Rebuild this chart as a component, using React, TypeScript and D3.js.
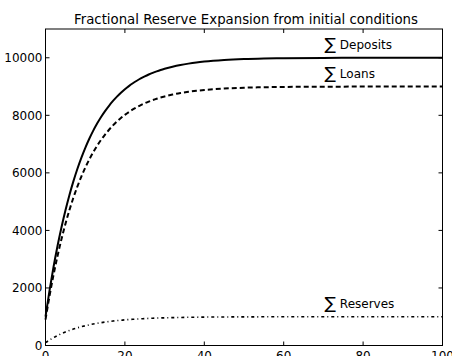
import React, { useEffect, useRef } from "react";
import * as d3 from "d3";

const WIDTH = 452;
const HEIGHT = 356;

// periods (x) and the three running totals
const steps = [
  0, 1, 2, 3, 4, 5, 6, 7, 8, 9, 10, 11, 12, 13, 14, 15, 16, 17, 18, 19, 20,
  21, 22, 23, 24, 25, 26, 27, 28, 29, 30, 32, 34, 36, 38, 40, 45, 50, 55, 60,
  70, 80, 90, 100,
];
const deposits = [
  1000, 1900, 2710, 3439, 4095, 4686, 5217, 5695, 6126, 6513, 6862, 7176,
  7458, 7712, 7941, 8147, 8332, 8499, 8649, 8784, 8906, 9015, 9114, 9202,
  9282, 9354, 9419, 9477, 9529, 9576, 9618, 9691, 9750, 9797, 9836, 9867,
  9921, 9954, 9973, 9984, 9994, 9998, 9999, 10000,
];
const loans = [
  900, 1710, 2439, 3095, 3686, 4217, 4695, 5126, 5513, 5862, 6176, 6458, 6712,
  6941, 7147, 7332, 7499, 7649, 7784, 7906, 8015, 8114, 8203, 8282, 8354,
  8419, 8477, 8529, 8576, 8618, 8656, 8722, 8775, 8817, 8852, 8880, 8929,
  8959, 8976, 8986, 8995, 8998, 8999, 9000,
];
const reserves = [
  100, 190, 271, 344, 410, 469, 522, 570, 613, 651, 686, 718, 746, 771, 794,
  815, 833, 850, 865, 878, 891, 902, 911, 920, 928, 935, 942, 948, 953, 958,
  962, 969, 975, 980, 984, 987, 992, 995, 997, 998, 999, 1000, 1000, 1000,
];

const xTicks = [0, 20, 40, 60, 80, 100];
const yTicks = [0, 2000, 4000, 6000, 8000, 10000];

const series = [
  { name: "Deposits", values: deposits, dash: null, width: 2, label: [70, 10300] },
  { name: "Loans", values: loans, dash: "5,3", width: 2, label: [70, 9300] },
  { name: "Reserves", values: reserves, dash: "3,3,1,3", width: 1.6, label: [70, 1300] },
];

const FONT = "DejaVu Sans, sans-serif";

export default function App() {
  const ref = useRef<SVGSVGElement>(null);

  useEffect(() => {
    const svg = d3.select(ref.current);
    svg.selectAll("*").remove();

    const left = 45.5;
    const right = 442.5;
    const top = 29;
    const bottom = 345.5;

    const x = d3.scaleLinear().domain([0, 100]).range([left, right]);
    const y = d3.scaleLinear().domain([0, 11000]).range([bottom, top]);

    const line = d3
      .line<number>()
      .x((d, i) => x(steps[i]))
      .y((d) => y(d))
      .curve(d3.curveMonotoneX);

    series.forEach((s) => {
      svg
        .append("path")
        .attr("d", line(s.values))
        .attr("fill", "none")
        .attr("stroke", "black")
        .attr("stroke-width", s.width)
        .attr("stroke-dasharray", s.dash);

      const t = svg
        .append("text")
        .attr("x", x(s.label[0]) + 1)
        .attr("y", y(s.label[1]))
        .attr("font-family", FONT)
        .attr("font-size", 12);
      t.append("tspan").attr("font-size", 17).attr("dy", 1).text("∑");
      t.append("tspan").attr("dy", -1).attr("dx", 4).text(s.name);
    });

    // frame
    svg
      .append("rect")
      .attr("x", left)
      .attr("y", top)
      .attr("width", right - left)
      .attr("height", bottom - top)
      .attr("fill", "none")
      .attr("stroke", "black")
      .attr("stroke-width", 1);

    const tickLen = 4;
    xTicks.forEach((v) => {
      svg.append("line").attr("x1", x(v)).attr("x2", x(v))
        .attr("y1", bottom).attr("y2", bottom - tickLen).attr("stroke", "black");
      svg.append("line").attr("x1", x(v)).attr("x2", x(v))
        .attr("y1", top).attr("y2", top + tickLen).attr("stroke", "black");
      svg.append("text")
        .attr("x", x(v))
        .attr("y", bottom + 14.5)
        .attr("text-anchor", "middle")
        .attr("font-family", FONT)
        .attr("font-size", 12)
        .text(v);
    });
    yTicks.forEach((v) => {
      svg.append("line").attr("x1", left).attr("x2", left + tickLen)
        .attr("y1", y(v)).attr("y2", y(v)).attr("stroke", "black");
      svg.append("line").attr("x1", right).attr("x2", right - tickLen)
        .attr("y1", y(v)).attr("y2", y(v)).attr("stroke", "black");
      svg.append("text")
        .attr("x", left - 3)
        .attr("y", y(v))
        .attr("dy", "0.36em")
        .attr("text-anchor", "end")
        .attr("font-family", FONT)
        .attr("font-size", 12)
        .text(v);
    });

    svg.append("text")
      .attr("x", (left + right) / 2 + 2)
      .attr("y", 24)
      .attr("text-anchor", "middle")
      .attr("font-family", FONT)
      .attr("font-size", 13.3)
      .text("Fractional Reserve Expansion from initial conditions");
  }, []);

  return (
    <svg
      ref={ref}
      width={WIDTH}
      height={HEIGHT}
      style={{ position: "absolute", left: 0, top: 0, background: "white" }}
    />
  );
}
